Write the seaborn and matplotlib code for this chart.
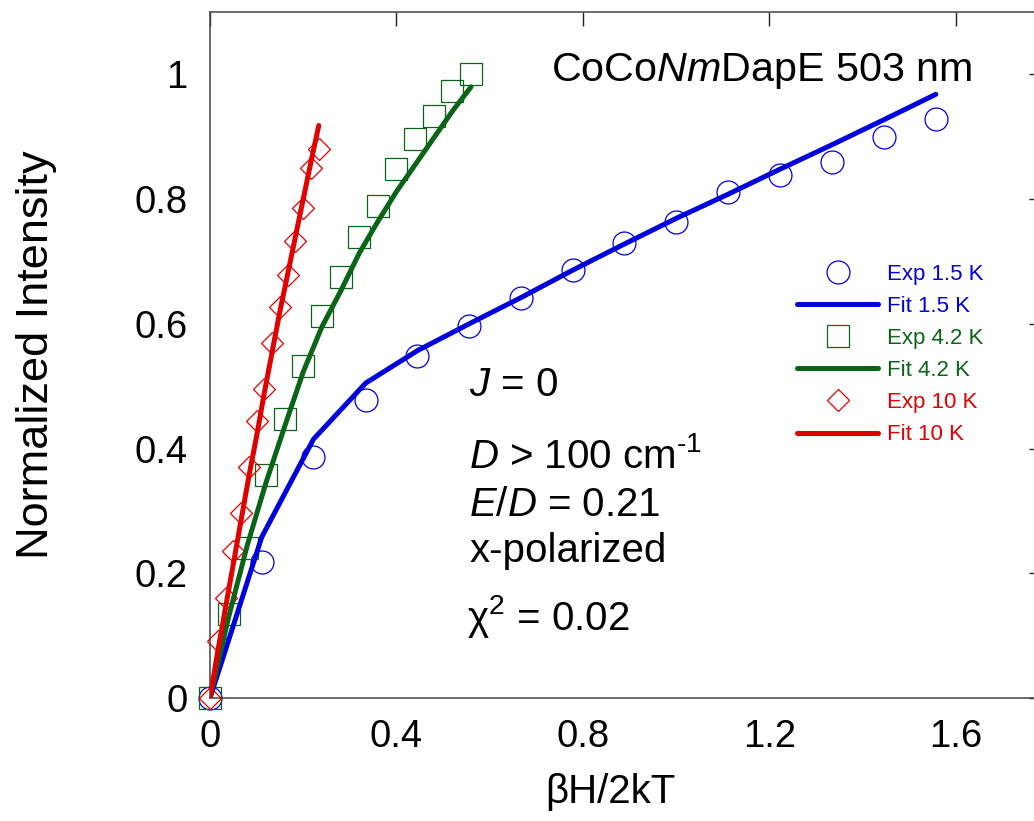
import matplotlib
matplotlib.use("Agg")
import matplotlib.pyplot as plt
import seaborn as sns
import pandas as pd

# ---- data ----
x_15 = [0, 0.111, 0.222, 0.334, 0.445, 0.556, 0.667, 0.778, 0.889, 1.0, 1.112, 1.223, 1.334, 1.445, 1.557]
exp_15 = [0, 0.218, 0.387, 0.478, 0.548, 0.596, 0.642, 0.687, 0.730, 0.763, 0.811, 0.838, 0.860, 0.899, 0.928]
fit_15 = [0, 0.258, 0.415, 0.505, 0.557, 0.600, 0.642, 0.686, 0.728, 0.769, 0.808, 0.848, 0.887, 0.927, 0.968]

x_42 = [0, 0.04, 0.08, 0.12, 0.16, 0.20, 0.24, 0.28, 0.32, 0.36, 0.40, 0.44, 0.48, 0.52, 0.56]
exp_42 = [0, 0.134, 0.241, 0.358, 0.448, 0.533, 0.613, 0.675, 0.739, 0.789, 0.849, 0.897, 0.934, 0.974, 1.0]
fit_42 = [0, 0.130, 0.245, 0.345, 0.435, 0.523, 0.595, 0.652, 0.713, 0.764, 0.812, 0.855, 0.898, 0.941, 0.980]

x_10 = [0, 0.0167, 0.0333, 0.05, 0.0667, 0.0833, 0.1, 0.1167, 0.1333, 0.15, 0.1667, 0.1833, 0.2, 0.2167, 0.2333]
exp_10 = [0, 0.092, 0.161, 0.235, 0.296, 0.371, 0.444, 0.496, 0.569, 0.627, 0.679, 0.732, 0.786, 0.850, 0.881]
fit_10 = [0, 0.075, 0.145, 0.215, 0.285, 0.355, 0.420, 0.490, 0.555, 0.620, 0.680, 0.740, 0.800, 0.860, 0.918]

x_ticks = [0, 0.4, 0.8, 1.2, 1.6]
x_ticklabels = ["0", "0.4", "0.8", "1.2", "1.6"]
y_ticks = [0, 0.2, 0.4, 0.6, 0.8, 1.0]
y_ticklabels = ["0", "0.2", "0.4", "0.6", "0.8", "1"]

series = [
    ("1.5 K", x_15, exp_15, fit_15, "#0000dd", "o", 16.5),
    ("4.2 K", x_42, exp_42, fit_42, "#0a6418", "s", 16.5),
    ("10 K", x_10, exp_10, fit_10, "#e00000", "D", 11.7),
]

sns.set_theme(style="white")
plt.rcParams["font.family"] = ["Liberation Sans", "DejaVu Sans"]
plt.rcParams["mathtext.fontset"] = "custom"
plt.rcParams["mathtext.rm"] = "Liberation Sans"
plt.rcParams["mathtext.it"] = "Liberation Sans:italic"
plt.rcParams["text.color"] = "black"
plt.rcParams["axes.labelcolor"] = "black"

fig = plt.figure(figsize=(10.34, 8.21), dpi=100)
ax = fig.add_axes([210 / 1034, 123 / 821, 833 / 1034, 686 / 821])

for name, xs, ye, yf, col, mk, ms in series:
    df = pd.DataFrame({"x": xs, "exp": ye, "fit": yf})
    sns.lineplot(data=df, x="x", y="exp", ax=ax, linestyle="", marker=mk,
                 markersize=ms, markerfacecolor="none", markeredgecolor=col,
                 markeredgewidth=0.9, color=col, clip_on=False,
                 label="Exp " + name, sort=False, zorder=3)
    sns.lineplot(data=df, x="x", y="fit", ax=ax, color=col, linewidth=3.6,
                 label="Fit " + name, sort=False, zorder=4)

ax.set_xlim(0, 1.787)
ax.set_ylim(0, 1.1)
ax.set_xticks(x_ticks)
ax.set_xticklabels(x_ticklabels)
ax.set_yticks(y_ticks)
ax.set_yticklabels(y_ticklabels)
ax.tick_params(axis="both", which="major", direction="in", length=10, width=1.0,
               colors="#222222", labelsize=27.5, top=True, right=True,
               labelcolor="black")
ax.tick_params(axis="x", pad=15)
ax.tick_params(axis="y", pad=16)
for s in ax.spines.values():
    s.set_color("#444444")
    s.set_linewidth(1.1)

ax.set_xlabel("βH/2kT", fontsize=29)
ax.xaxis.set_label_coords(0.481, -0.109)
ax.set_ylabel("Normalized Intensity", fontsize=32.5)
ax.yaxis.set_label_coords(-0.184, 0.5)

leg = ax.legend(loc="upper left", bbox_to_anchor=(0.7047, 0.633), frameon=False,
                fontsize=16, handlelength=3.65, handletextpad=0.4,
                labelspacing=0.5, borderpad=0, borderaxespad=0, numpoints=1)
for txt, line in zip(leg.get_texts(), leg.get_lines()):
    txt.set_color(line.get_color() if line.get_linestyle() != "None" else line.get_markeredgecolor())

ax.text(0.4094, 0.899, "CoCo$Nm$DapE 503 nm", transform=ax.transAxes,
        fontsize=29.7, ha="left", va="baseline")
ax.text(0.311, 0.440, "$J$ = 0", transform=ax.transAxes, fontsize=29, va="baseline")
ax.text(0.311, 0.336, r"$D$ > 100 cm$^{\text{-}1}$", transform=ax.transAxes, fontsize=29, va="baseline")
ax.text(0.311, 0.266, "$E/D$ = 0.21", transform=ax.transAxes, fontsize=29, va="baseline")
ax.text(0.311, 0.198, "x-polarized", transform=ax.transAxes, fontsize=29, va="baseline")
ax.text(0.309, 0.099, "χ$^{2}$ = 0.02", transform=ax.transAxes, fontsize=29, va="baseline")

fig.savefig("out.png", dpi=100)
